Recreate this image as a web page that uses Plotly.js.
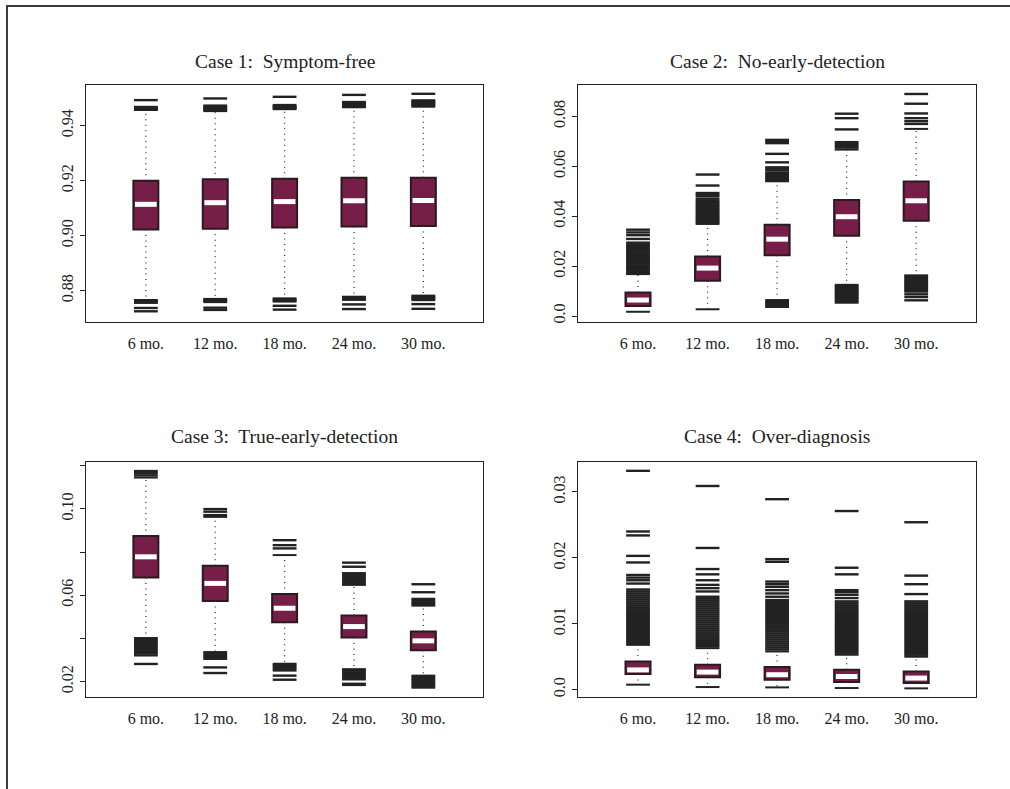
<!DOCTYPE html>
<html>
<head>
<meta charset="utf-8">
<script src="https://cdn.plot.ly/plotly-3.0.1.min.js"></script>
<style>html,body{margin:0;padding:0;background:#fff;}#chart{width:1010px;height:789px;}</style>
</head>
<body>
<div id="chart"></div>
<script>
// ---------------- data ----------------
const months = ['6 mo.', '12 mo.', '18 mo.', '24 mo.', '30 mo.'];
const titles = ['Case 1:  Symptom-free', 'Case 2:  No-early-detection', 'Case 3:  True-early-detection', 'Case 4:  Over-diagnosis'];

// Case 1: Symptom-free
const case1_lower  = [0.8766, 0.8770, 0.8772, 0.8778, 0.8782];
const case1_q1     = [0.9022, 0.9025, 0.9030, 0.9033, 0.9035];
const case1_median = [0.9114, 0.9120, 0.9124, 0.9127, 0.9128];
const case1_q3     = [0.9200, 0.9205, 0.9207, 0.9211, 0.9211];
const case1_upper  = [0.9457, 0.9453, 0.9460, 0.9467, 0.9469];
const case1_outliers = [
  [0.9459, 0.9462, 0.9465, 0.9468, 0.9493, 0.8762, 0.8759, 0.8756, 0.8737, 0.8725],
  [0.9457, 0.9461, 0.9465, 0.9469, 0.9473, 0.9499, 0.8767, 0.8763, 0.8759, 0.8738, 0.8730],
  [0.9463, 0.9467, 0.9471, 0.9475, 0.9505, 0.8768, 0.8764, 0.8761, 0.8745, 0.8731],
  [0.9470, 0.9474, 0.9478, 0.9482, 0.9486, 0.9512, 0.8775, 0.8771, 0.8767, 0.8750, 0.8733],
  [0.9473, 0.9477, 0.9481, 0.9485, 0.9489, 0.9492, 0.9516, 0.8778, 0.8774, 0.8770, 0.8766, 0.8751, 0.8734]
];
const case1_ticks = [0.88, 0.90, 0.92, 0.94];
const case1_ticktext = ['0.88', '0.90', '0.92', '0.94'];

// Case 2: No-early-detection
const case2_lower  = [0.0017, 0.0027, 0.0064, 0.0125, 0.0163];
const case2_q1     = [0.0040, 0.0141, 0.0244, 0.0322, 0.0382];
const case2_median = [0.0064, 0.0192, 0.0308, 0.0398, 0.0462];
const case2_q3     = [0.0094, 0.0239, 0.0366, 0.0465, 0.0539];
const case2_upper  = [0.0168, 0.0369, 0.0540, 0.0667, 0.0750];
const case2_outliers = [
  [0.0172, 0.0178, 0.0185, 0.0191, 0.0197, 0.0203, 0.0210, 0.0216, 0.0222, 0.0229, 0.0236, 0.0242,
   0.0249, 0.0255, 0.0262, 0.0268, 0.0275, 0.0281, 0.0287, 0.0294, 0.0309, 0.0324, 0.0335, 0.0346],
  [0.0374, 0.0380, 0.0386, 0.0392, 0.0398, 0.0404, 0.0410, 0.0417, 0.0423, 0.0429, 0.0436, 0.0442,
   0.0448, 0.0455, 0.0461, 0.0470, 0.0480, 0.0487, 0.0493, 0.0523, 0.0567],
  [0.0545, 0.0551, 0.0557, 0.0563, 0.0569, 0.0575, 0.0584, 0.0591, 0.0596, 0.0616, 0.0650, 0.0693,
   0.0701, 0.0706, 0.0060, 0.0054, 0.0048, 0.0042, 0.0037],
  [0.0675, 0.0682, 0.0690, 0.0697, 0.0748, 0.0793, 0.0811, 0.0120, 0.0114, 0.0108, 0.0102, 0.0096,
   0.0090, 0.0084, 0.0078, 0.0072, 0.0066, 0.0060, 0.0054],
  [0.0770, 0.0781, 0.0793, 0.0812, 0.0851, 0.0890, 0.0158, 0.0152, 0.0146, 0.0140, 0.0134, 0.0128,
   0.0122, 0.0116, 0.0110, 0.0104, 0.0098, 0.0087, 0.0076, 0.0063]
];
const case2_ticks = [0.0, 0.02, 0.04, 0.06, 0.08];
const case2_ticktext = ['0.0', '0.02', '0.04', '0.06', '0.08'];

// Case 3: True-early-detection
const case3_lower  = [0.0402, 0.0337, 0.0283, 0.0258, 0.0228];
const case3_q1     = [0.0682, 0.0574, 0.0475, 0.0405, 0.0345];
const case3_median = [0.0778, 0.0655, 0.0540, 0.0455, 0.0389];
const case3_q3     = [0.0874, 0.0737, 0.0606, 0.0506, 0.0432];
const case3_upper  = [0.1145, 0.0963, 0.0786, 0.0648, 0.0552];
const case3_outliers = [
  [0.1155, 0.1165, 0.1175, 0.0396, 0.0388, 0.0380, 0.0372, 0.0364, 0.0356, 0.0348, 0.0340, 0.0332, 0.0322, 0.0282],
  [0.0971, 0.0987, 0.0999, 0.0330, 0.0322, 0.0314, 0.0306, 0.0266, 0.0240],
  [0.0817, 0.0832, 0.0855, 0.0276, 0.0268, 0.0260, 0.0252, 0.0228, 0.0209],
  [0.0655, 0.0663, 0.0671, 0.0679, 0.0687, 0.0695, 0.0702, 0.0732, 0.0751,
   0.0251, 0.0243, 0.0235, 0.0227, 0.0219, 0.0211, 0.0190, 0.0185],
  [0.0559, 0.0567, 0.0575, 0.0583, 0.0614, 0.0651, 0.0221, 0.0213, 0.0205, 0.0197, 0.0189, 0.0181, 0.0173]
];
const case3_ticks = [0.02, 0.04, 0.06, 0.08, 0.10, 0.12];
const case3_ticktext = ['0.02', '', '0.06', '', '0.10', ''];

// Case 4: Over-diagnosis
const case4_lower  = [0.00076, 0.00040, 0.00035, 0.00025, 0.00020];
const case4_q1     = [0.00237, 0.00187, 0.00151, 0.00116, 0.00100];
const case4_median = [0.00300, 0.00267, 0.00227, 0.00200, 0.00176];
const case4_q3     = [0.00429, 0.00378, 0.00343, 0.00303, 0.00277];
const case4_upper  = [0.00680, 0.00630, 0.00580, 0.00530, 0.00500];
const case4_outliers = [
  [0.0071, 0.0074, 0.0077, 0.0080, 0.0083, 0.0086, 0.0089, 0.0092, 0.0095, 0.0098, 0.0101, 0.0104,
   0.0107, 0.0110, 0.0113, 0.0116, 0.0119, 0.0122, 0.0125, 0.0128, 0.0131, 0.0134, 0.0137, 0.0140,
   0.0143, 0.0146, 0.0149, 0.0152, 0.0161, 0.0166, 0.0170, 0.0174, 0.0193, 0.0203, 0.0234, 0.0240, 0.0332],
  [0.0066, 0.0069, 0.0072, 0.0075, 0.0078, 0.0081, 0.0084, 0.0087, 0.0090, 0.0093, 0.0096, 0.0099,
   0.0102, 0.0105, 0.0108, 0.0111, 0.0114, 0.0117, 0.0120, 0.0123, 0.0126, 0.0129, 0.0132, 0.0135,
   0.0138, 0.0141, 0.0149, 0.0154, 0.0159, 0.0166, 0.0175, 0.0183, 0.0215, 0.0309],
  [0.0061, 0.0064, 0.0067, 0.0070, 0.0073, 0.0076, 0.0079, 0.0082, 0.0085, 0.0088, 0.0091, 0.0094,
   0.0097, 0.0100, 0.0103, 0.0106, 0.0109, 0.0112, 0.0115, 0.0118, 0.0121, 0.0124, 0.0127, 0.0130,
   0.0133, 0.0136, 0.0141, 0.0146, 0.0151, 0.0156, 0.0160, 0.0164, 0.0194, 0.0198, 0.0289],
  [0.0056, 0.0059, 0.0062, 0.0065, 0.0068, 0.0071, 0.0074, 0.0077, 0.0080, 0.0083, 0.0086, 0.0089,
   0.0092, 0.0095, 0.0098, 0.0101, 0.0104, 0.0107, 0.0110, 0.0113, 0.0116, 0.0119, 0.0122, 0.0125,
   0.0128, 0.0131, 0.0134, 0.0139, 0.0144, 0.0148, 0.0151, 0.0175, 0.0185, 0.0271],
  [0.0053, 0.0056, 0.0059, 0.0062, 0.0065, 0.0068, 0.0071, 0.0074, 0.0077, 0.0080, 0.0083, 0.0086,
   0.0089, 0.0092, 0.0095, 0.0098, 0.0101, 0.0104, 0.0107, 0.0110, 0.0113, 0.0116, 0.0119, 0.0122,
   0.0125, 0.0128, 0.0131, 0.0134, 0.0145, 0.0160, 0.0173, 0.0254]
];
const case4_ticks = [0.0, 0.01, 0.02, 0.03];
const case4_ticktext = ['0.0', '0.01', '0.02', '0.03'];

// ---------------- styling ----------------
const FONT = 'Liberation Serif, Times New Roman, serif';
const BOX_FILL = '#771e48';
const BOX_LINE = '#2a1a20';
const INK = '#222222';
const BOX_W = 0.36;     // in category units
const CAP_SIZE = 17;    // line-ew marker size (~24px wide)
const MED_SIZE = 15.5;

const panels = [
  {lower: case1_lower, q1: case1_q1, med: case1_median, q3: case1_q3, upper: case1_upper, out: case1_outliers,
   ticks: case1_ticks, ticktext: case1_ticktext, range: [0.8686, 0.9548]},
  {lower: case2_lower, q1: case2_q1, med: case2_median, q3: case2_q3, upper: case2_upper, out: case2_outliers,
   ticks: case2_ticks, ticktext: case2_ticktext, range: [-0.0024, 0.0926]},
  {lower: case3_lower, q1: case3_q1, med: case3_median, q3: case3_q3, upper: case3_upper, out: case3_outliers,
   ticks: case3_ticks, ticktext: case3_ticktext, range: [0.0129, 0.1217]},
  {lower: case4_lower, q1: case4_q1, med: case4_median, q3: case4_q3, upper: case4_upper, out: case4_outliers,
   ticks: case4_ticks, ticktext: case4_ticktext, range: [-0.00111, 0.03454]}
];

const xs = months.map((m, i) => i + 1);
const traces = [];
panels.forEach((p, k) => {
  const xa = 'x' + (k === 0 ? '' : k + 1);
  const ya = 'y' + (k === 0 ? '' : k + 1);
  // whiskers (dotted)
  const wx = [], wy = [];
  xs.forEach((x, i) => {
    wx.push(x, x, null, x, x, null);
    wy.push(p.q3[i], p.upper[i], null, p.q1[i], p.lower[i], null);
  });
  traces.push({type: 'scatter', mode: 'lines', x: wx, y: wy, xaxis: xa, yaxis: ya,
    line: {color: '#333', width: 1.3, dash: '1px,4.5px'}, hoverinfo: 'skip', showlegend: false});
  // boxes
  traces.push({type: 'bar', x: xs, base: p.q1, y: p.q3.map((v, i) => v - p.q1[i]), width: BOX_W,
    xaxis: xa, yaxis: ya, marker: {color: BOX_FILL, line: {color: BOX_LINE, width: 2}},
    hoverinfo: 'skip', showlegend: false});
  // whisker caps
  traces.push({type: 'scatter', mode: 'markers', x: xs.concat(xs), y: p.upper.concat(p.lower),
    xaxis: xa, yaxis: ya, marker: {symbol: 'line-ew', size: CAP_SIZE, line: {color: INK, width: 2}},
    hoverinfo: 'skip', showlegend: false});
  // outliers
  const ox = [], oy = [];
  p.out.forEach((arr, i) => arr.forEach(v => { ox.push(xs[i]); oy.push(v); }));
  traces.push({type: 'scatter', mode: 'markers', x: ox, y: oy, xaxis: xa, yaxis: ya,
    marker: {symbol: 'line-ew', size: CAP_SIZE, line: {color: INK, width: 2.4}},
    hoverinfo: 'skip', showlegend: false});
  // medians
  traces.push({type: 'scatter', mode: 'markers', x: xs, y: p.med, xaxis: xa, yaxis: ya,
    marker: {symbol: 'line-ew', size: MED_SIZE, line: {color: '#ffffff', width: 5}},
    hoverinfo: 'skip', showlegend: false});
});

const W = 1010, H = 789;
const colX = [[86 / W, 483 / W], [578 / W, 976 / W]];
const rowY = [[1 - 322 / H, 1 - 85 / H], [1 - 697 / H, 1 - 462 / H]];

const layout = {
  width: W, height: H,
  margin: {l: 0, r: 0, t: 0, b: 0},
  paper_bgcolor: '#ffffff', plot_bgcolor: '#ffffff',
  showlegend: false, bargap: 0,
  font: {family: FONT, color: INK, size: 16},
  annotations: [],
  shapes: [{type: 'path', xref: 'paper', yref: 'paper',
    path: 'M ' + (7 / W) + ' 0 L ' + (7 / W) + ' ' + (1 - 6 / H) + ' L 1 ' + (1 - 6 / H),
    line: {color: '#3a3a3a', width: 2}}]
};

panels.forEach((p, k) => {
  const col = k % 2, row = Math.floor(k / 2);
  const sfx = k === 0 ? '' : String(k + 1);
  layout['xaxis' + sfx] = {
    domain: colX[col], anchor: 'y' + sfx, range: [0.137, 5.86],
    tickmode: 'array', tickvals: xs, ticktext: months,
    ticks: 'outside', ticklen: 6, tickcolor: 'rgba(0,0,0,0)',
    showgrid: false, zeroline: false, showline: true, mirror: true, linecolor: INK, linewidth: 1.3,
    tickfont: {family: FONT, size: 16, color: INK}, fixedrange: true
  };
  layout['yaxis' + sfx] = {
    domain: rowY[row], anchor: 'x' + sfx, range: p.range,
    tickmode: 'array', tickvals: p.ticks, ticktext: p.ticktext, tickangle: -90,
    ticks: 'outside', ticklen: 5, tickcolor: INK, tickwidth: 1,
    showgrid: false, zeroline: false, showline: true, mirror: true, linecolor: INK, linewidth: 1.3,
    tickfont: {family: FONT, size: 16, color: INK}, fixedrange: true
  };
  layout.annotations.push({
    text: titles[k], xref: 'paper', yref: 'paper', showarrow: false,
    x: (colX[col][0] + colX[col][1]) / 2, y: row === 0 ? 1 - 61 / H : 1 - 436 / H,
    xanchor: 'center', yanchor: 'middle', font: {family: FONT, size: 19.5, color: INK}
  });
});

Plotly.newPlot('chart', traces, layout, {staticPlot: true, displayModeBar: false});
</script>
</body>
</html>
